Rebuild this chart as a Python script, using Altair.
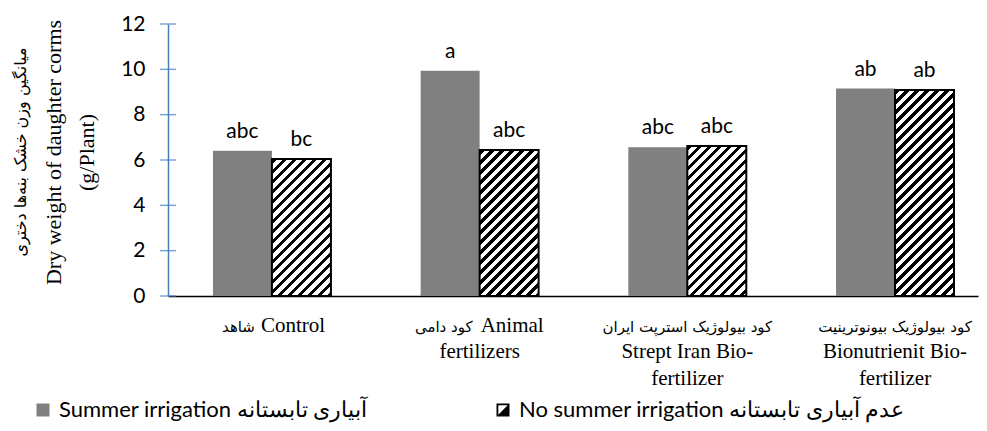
import altair as alt
import pandas as pd

# ---------------- data ----------------
NBSP = "\u00a0"
categories = [
    NBSP,
    NBSP + "\nfertilizers",
    NBSP + "\nStrept Iran Bio-\nfertilizer",
    NBSP + "\nBionutrienit Bio-\nfertilizer",
]
category_first_en = ["Control", "Animal", "", ""]
category_persian = ["شاهد", "کود دامی", "کود بیولوژیک استرپت ایران", "کود بیولوژیک بیونوترینیت"]
series = ["Summer irrigation آبیاری تابستانه", "No summer irrigation عدم آبیاری تابستانه"]
summer_values = [6.41, 9.94, 6.56, 9.15]
no_summer_values = [6.04, 6.44, 6.62, 9.09]
summer_letters = ["abc", "a", "abc", "ab"]
no_summer_letters = ["bc", "abc", "abc", "ab"]
y_ticks = [0, 2, 4, 6, 8, 10, 12]
y_title_en = ["Dry weight of daughter corms", "(g/Plant)"]
y_title_fa = ["میانگین وزن  خشک بنه‌ها دختری"]

rows = []
for i, c in enumerate(categories):
    rows.append({"cat": c, "irr": series[0], "value": summer_values[i], "letter": summer_letters[i]})
    rows.append({"cat": c, "irr": series[1], "value": no_summer_values[i], "letter": no_summer_letters[i]})
df = pd.DataFrame(rows)
df["half"] = df["value"] / 2

# ---------------- layout / style ----------------
W, H = 810, 272
Y_MAX = 12
P_IN, P_OUT, ALIGN = 0.432, 0.166, 0.652
STEP = W / (len(categories) - P_IN + 2 * P_OUT)
BAR_W = STEP * (1 - P_IN) / 2
GRAY = "#808080"
BLUE = "#4A7EBB"
SANS = "Lato"
SERIF = "Liberation Serif"
FA_FONT = "DejaVu Sans"
FA_ALIGN = ["right", "right", "center", "center"]   # placement of the Persian part of each label
FA_DX = [-17, -7, 0, 0]
EN_DX = [-11, 1, 0, 0]
LINE1_Y = H + 36


def hatch(value, period=10.0, black=4.4):
    w = BAR_W
    h = value * H / Y_MAX
    s = w + h
    k = s / (w * w + h * h)
    stops = [{"offset": 0, "color": "white"}]
    c = 1.0
    while c < s:
        o1 = min(c / s, 1.0)
        o2 = min((c + black) / s, 1.0)
        stops += [
            {"offset": round(o1, 5), "color": "white"},
            {"offset": round(o1, 5), "color": "black"},
            {"offset": round(o2, 5), "color": "black"},
            {"offset": round(o2, 5), "color": "white"},
        ]
        c += period
    stops.append({"offset": 1, "color": "white"})
    return {"gradient": "linear", "x1": 0, "y1": 0, "x2": w * k, "y2": h * k, "stops": stops}


x_enc = alt.X(
    "cat:N",
    sort=categories,
    scale=alt.Scale(domain=categories, paddingInner=P_IN, paddingOuter=P_OUT, align=ALIGN),
    axis=alt.Axis(
        title=None, labelAngle=0, labelExpr="split(datum.label, '\\n')",
        labelFont=SERIF, labelFontSize=21, labelLineHeight=27, labelPadding=17,
        labelColor="black", labelLimit=400, labelOverlap=False, labelBound=False,
        labelFontWeight="normal",
        ticks=False, domainColor="black", domainWidth=1.5,
    ),
)
xo_enc = alt.XOffset("irr:N", sort=series, scale=alt.Scale(domain=series, paddingInner=0, paddingOuter=0))
y_scale = alt.Scale(domain=[0, Y_MAX], nice=False, zero=True)
y_enc = alt.Y(
    "value:Q",
    scale=y_scale,
    axis=alt.Axis(
        values=y_ticks, ticks=False, grid=False, domainColor=BLUE, domainWidth=1.5,
        labelFont=SANS, labelFontSize=21, labelColor="black", labelPadding=23,
        title=y_title_en, titleAngle=270, titleX=-125, titleY=128, titleAlign="center",
        titleBaseline="top", titleFont=SERIF, titleFontSize=22, titleFontWeight="normal",
        titleLineHeight=33, titleColor="black",
    ),
)

legend = alt.Legend(title=None)
fill_scale = alt.Scale(domain=series, range=[GRAY, "black"])
half_path = "M-1,-1H1V1H-1Z M-0.72,-0.72V0.72H0.72V-0.72Z M0.72,-0.72L0.72,0.72L-0.72,0.72Z"
shape_scale = alt.Scale(domain=series, range=["square", half_path])

points = alt.Chart(df).mark_point(filled=True, size=100, opacity=1).encode(
    x=x_enc, xOffset=xo_enc,
    y=alt.Y("half:Q", scale=y_scale),
    fill=alt.Fill("irr:N", scale=fill_scale, legend=legend),
    shape=alt.Shape("irr:N", scale=shape_scale, legend=legend),
)

bars = alt.Chart(df).mark_bar(strokeWidth=0).encode(
    x=x_enc, xOffset=xo_enc, y=y_enc,
    fill=alt.Fill("irr:N", scale=fill_scale, legend=legend),
)

hatch_layers = []
for i, c in enumerate(categories):
    hatch_layers.append(
        alt.Chart(df[(df["cat"] == c) & (df["irr"] == series[1])])
        .mark_bar(fill=hatch(no_summer_values[i]), stroke="black", strokeWidth=2)
        .encode(x=x_enc, xOffset=xo_enc, y=alt.Y("value:Q", scale=y_scale))
    )

letters = alt.Chart(df).mark_text(
    dy=-13, baseline="alphabetic", font=SANS, fontSize=21, color="black"
).encode(x=x_enc, xOffset=xo_enc, y=alt.Y("value:Q", scale=y_scale), text="letter:N")

cross_ticks = alt.Chart(pd.DataFrame({"t": y_ticks})).mark_tick(
    orient="horizontal", size=16, thickness=1.5, color=BLUE
).encode(y=alt.Y("t:Q", scale=y_scale), x=alt.value(0))

# first line of each category label: Persian part (smaller Persian font) and English part
label_layers = []
for i, c in enumerate(categories):
    label_layers.append(
        alt.Chart(pd.DataFrame({"cat": [c], "fa": [category_persian[i]]}))
        .mark_text(font=FA_FONT, fontSize=15, baseline="alphabetic", color="black",
                   align=FA_ALIGN[i], dx=FA_DX[i])
        .encode(x=x_enc, y=alt.value(LINE1_Y), text="fa:N")
    )
    if category_first_en[i]:
        label_layers.append(
            alt.Chart(pd.DataFrame({"cat": [c], "en": [category_first_en[i]]}))
            .mark_text(font=SERIF, fontSize=21, baseline="alphabetic", color="black",
                       align="left", dx=EN_DX[i])
            .encode(x=x_enc, y=alt.value(LINE1_Y), text="en:N")
        )

# Persian line of the y-axis title
fa_title = alt.Chart(pd.DataFrame({"t": y_title_fa})).mark_text(
    font=FA_FONT, fontSize=16, angle=270, align="center", baseline="middle", color="black"
).encode(x=alt.value(-147), y=alt.value(128), text="t:N")

chart = alt.layer(points, bars, *hatch_layers, letters, cross_ticks, *label_layers, fa_title).properties(
    width=W, height=H,
    autosize=alt.AutoSizeParams(type="none"),
    padding={"left": 160, "top": 16, "right": 1, "bottom": 127},
).configure_view(stroke=None).configure_legend(
    orient="none", legendX=-136, legendY=375, direction="horizontal",
    symbolSize=169, symbolStrokeWidth=0, labelFont=SANS, labelFontSize=22,
    labelColor="black", labelOffset=5, columnPadding=124, labelLimit=500,
    symbolOpacity=1,
)

chart.save("out.html", embed_options={"renderer": "svg", "actions": False})
